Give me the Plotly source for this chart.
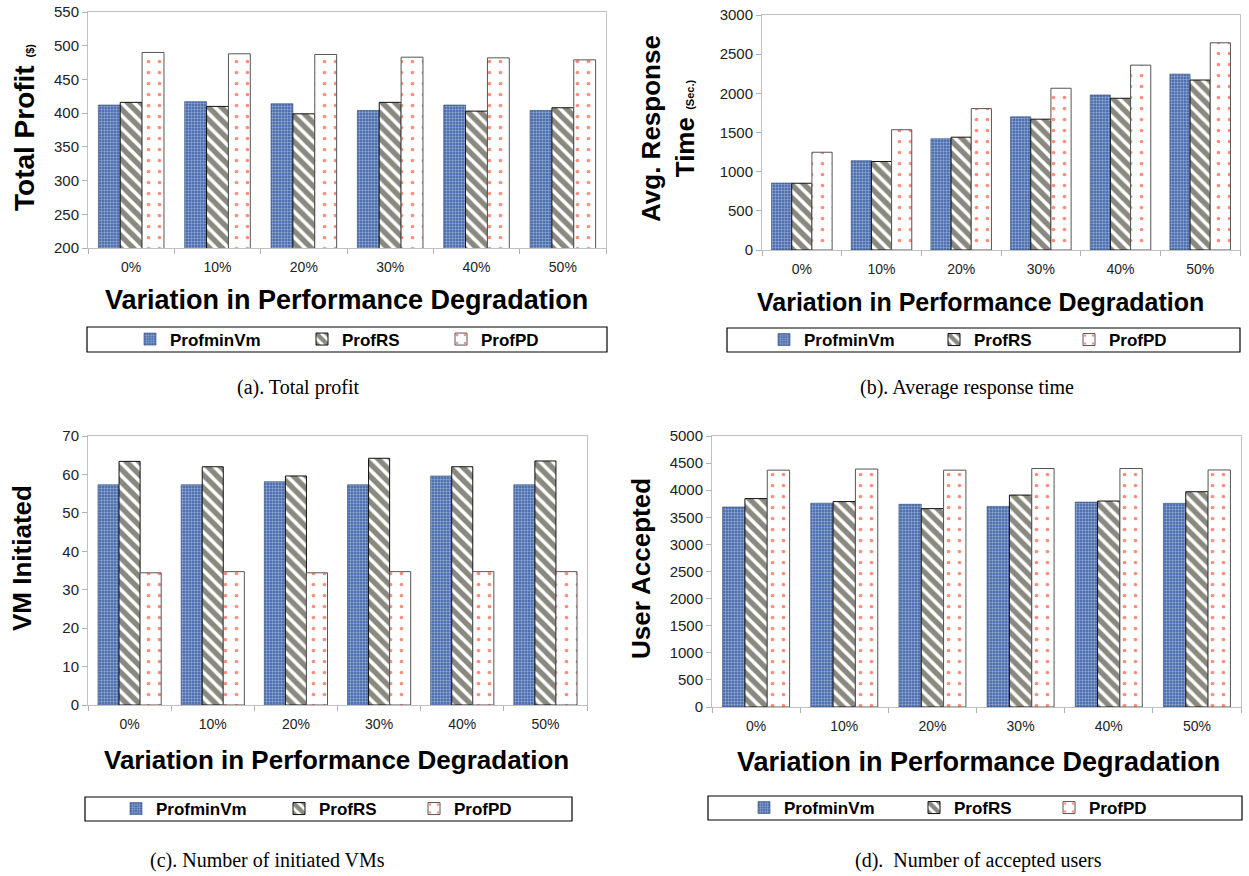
import plotly.graph_objects as go

W, H = 1249, 876

categories = ["0%", "10%", "20%", "30%", "40%", "50%"]
series_names = ["ProfminVm", "ProfRS", "ProfPD"]

# (a) Total profit ($)
profit_minvm = [412, 417, 414, 404, 412, 404]
profit_rs = [416, 410, 399, 416, 403, 408]
profit_pd = [490, 488, 487, 483, 482, 479]

# (b) Average response time (sec.)
resp_minvm = [855, 1140, 1420, 1700, 1979, 2245]
resp_rs = [852, 1130, 1440, 1670, 1937, 2170]
resp_pd = [1248, 1535, 1805, 2065, 2360, 2645]

# (c) Number of initiated VMs
vm_minvm = [57.3, 57.3, 58.1, 57.3, 59.6, 57.3]
vm_rs = [63.4, 62.0, 59.6, 64.2, 62.0, 63.5]
vm_pd = [34.4, 34.7, 34.4, 34.7, 34.7, 34.7]

# (d) Number of accepted users
users_minvm = [3690, 3760, 3740, 3700, 3780, 3758]
users_rs = [3845, 3790, 3660, 3910, 3800, 3972]
users_pd = [4370, 4390, 4370, 4400, 4400, 4373]


def px(x):
    return x / W


def py(y):
    return 1 - y / H


styles = [
    dict(color="#3b60a6",
         line=dict(color="#2a4474", width=0.6),
         pattern=dict(shape=".", bgcolor="#3b60a6", fgcolor="#dfe7f7",
                      size=3, solidity=0.5, fillmode="overlay")),
    dict(color="white",
         line=dict(color="#111111", width=1),
         pattern=dict(shape="\\", bgcolor="white", fgcolor="#141400",
                      size=9, solidity=0.6, fillmode="overlay")),
    dict(color="white",
         line=dict(color="#555555", width=1),
         pattern=dict(shape=".", bgcolor="white", fgcolor="#ff2200",
                      size=11, solidity=0.09, fillmode="overlay")),
]

SANS = "Liberation Sans, Arial"
SERIF = "Liberation Serif, Times New Roman"

panels = [
    dict(data=[profit_minvm, profit_rs, profit_pd], rng=[200, 550], dtick=50,
         box=(88, 12, 606, 248), legend_box=(87, 327, 607, 352),
         legend_text_x=(171, 343, 482),
         ytitle="<b>Total Profit</b> <b><span style='font-size:11px'>($)</span></b>",
         ytitle_size=28, ytitle_xy=(24, 128),
         xtitle_xy=(346, 300), xtitle_size=27,
         caption="(a). Total profit", caption_xy=(298, 387)),
    dict(data=[resp_minvm, resp_rs, resp_pd], rng=[0, 3000], dtick=500,
         box=(762, 15, 1240, 250), legend_box=(727, 328, 1240, 352),
         legend_text_x=(805, 975, 1110),
         ytitle="<b>Avg. Response</b><br><b>Time</b> <b><span style='font-size:11px'>(Sec.)</span></b>",
         ytitle_size=26, ytitle_xy=(668, 128),
         xtitle_xy=(980, 302), xtitle_size=25,
         caption="(b). Average response time", caption_xy=(967, 387)),
    dict(data=[vm_minvm, vm_rs, vm_pd], rng=[0, 70], dtick=10,
         box=(88, 436, 587, 705), legend_box=(85, 797, 572, 821),
         legend_text_x=(157, 320, 455),
         ytitle="<b>VM Initiated</b>",
         ytitle_size=26, ytitle_xy=(22, 558),
         xtitle_xy=(336, 760), xtitle_size=26,
         caption="(c). Number of initiated VMs", caption_xy=(267, 860)),
    dict(data=[users_minvm, users_rs, users_pd], rng=[0, 5000], dtick=500,
         box=(712, 436, 1241, 707), legend_box=(708, 796, 1242, 820),
         legend_text_x=(785, 955, 1090),
         ytitle="<b>User Accepted</b>",
         ytitle_size=26, ytitle_xy=(641, 568),
         xtitle_xy=(978, 762), xtitle_size=27,
         caption="(d).  Number of accepted users", caption_xy=(978, 860)),
]

fig = go.Figure()
annotations = []
shapes = []
layout_extra = {}
legend_count = 0

for i, p in enumerate(panels):
    n = "" if i == 0 else str(i + 1)
    xa, ya = "x" + n, "y" + n
    x0, y0, x1, y1 = p["box"]
    lx0, ly0, lx1, ly1 = p["legend_box"]
    for s, (name, vals) in enumerate(zip(series_names, p["data"])):
        legend_count += 1
        lname = "legend" if legend_count == 1 else f"legend{legend_count}"
        fig.add_trace(go.Bar(
            x=categories, y=vals, name=name, xaxis=xa, yaxis=ya,
            marker=styles[s], legend=lname, showlegend=True,
        ))
        # one legend entry per series, placed along the framed strip
        layout_extra[lname] = dict(
            orientation="h", x=px(p["legend_text_x"][s] - 41),
            y=py((ly0 + ly1) / 2), xanchor="left", yanchor="middle",
            bgcolor="rgba(0,0,0,0)", borderwidth=0, itemwidth=30,
            font=dict(family=SANS, size=17, color="black", weight="bold"),
        )
    layout_extra["xaxis" + n] = dict(
        domain=[px(x0), px(x1)], anchor=ya, showline=True, mirror=True,
        linecolor="#c0c0c0", linewidth=1, ticks="outside", ticklen=5,
        tickcolor="#b0b0b0", tickson="boundaries", showgrid=False,
        ticklabelstandoff=6, automargin=False,
        tickfont=dict(family=SANS, size=14, color="#222"),
        fixedrange=True,
    )
    layout_extra["yaxis" + n] = dict(
        domain=[py(y1), py(y0)], anchor=xa, range=p["rng"], dtick=p["dtick"],
        showline=True, mirror=True, linecolor="#c0c0c0", linewidth=1,
        ticks="outside", ticklen=5, tickcolor="#b0b0b0", showgrid=False,
        zeroline=False, automargin=False,
        tickfont=dict(family=SANS, size=15, color="#222"),
        fixedrange=True,
    )
    # axis titles
    annotations.append(dict(
        text="<b>Variation in Performance Degradation</b>", xref="paper", yref="paper",
        x=px(p["xtitle_xy"][0]), y=py(p["xtitle_xy"][1]), showarrow=False,
        xanchor="center", yanchor="middle",
        font=dict(family=SANS, size=p["xtitle_size"], color="black"),
    ))
    annotations.append(dict(
        text=p["ytitle"], xref="paper", yref="paper",
        x=px(p["ytitle_xy"][0]), y=py(p["ytitle_xy"][1]), showarrow=False,
        textangle=-90, xanchor="center", yanchor="middle",
        font=dict(family=SANS, size=p["ytitle_size"], color="black"),
    ))
    annotations.append(dict(
        text=p["caption"], xref="paper", yref="paper",
        x=px(p["caption_xy"][0]), y=py(p["caption_xy"][1]), showarrow=False,
        xanchor="center", yanchor="middle",
        font=dict(family=SERIF, size=20, color="black"),
    ))
    # legend frame
    shapes.append(dict(type="rect", xref="paper", yref="paper",
                       x0=px(lx0), x1=px(lx1), y0=py(ly1), y1=py(ly0),
                       line=dict(color="black", width=1.2)))

fig.update_layout(
    width=W, height=H, margin=dict(l=0, r=0, t=0, b=0, autoexpand=False),
    paper_bgcolor="white", plot_bgcolor="white",
    barmode="group", bargap=0.24, bargroupgap=0,
    annotations=annotations, shapes=shapes,
    **layout_extra,
)

fig.write_html("out.html")
